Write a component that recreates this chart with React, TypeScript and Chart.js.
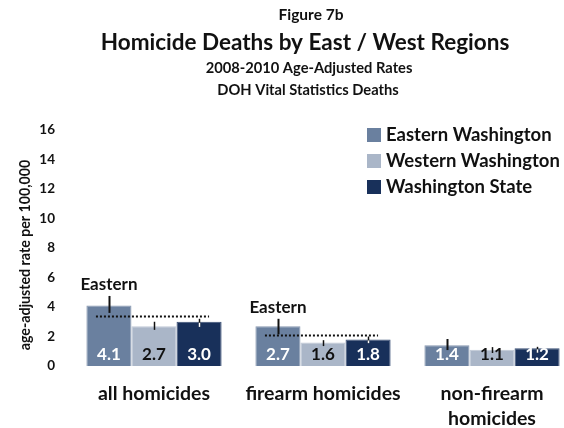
import React, { useEffect, useRef } from "react";
import { Chart, registerables } from "chart.js";

Chart.register(...registerables);

const categories: (string | string[])[] = ["all homicides", "firearm homicides", ["non-firearm", "homicides"]];
const seriesNames = ["Eastern Washington", "Western Washington", "Washington State"];
const eastern = [4.1, 2.7, 1.4];
const western = [2.7, 1.6, 1.1];
const state = [3.0, 1.8, 1.2];
const easternLow = [3.6, 2.15, 1.08];
const easternHigh = [4.75, 3.2, 1.83];
const westernLow = [2.45, 1.35, 0.88];
const westernHigh = [3.0, 1.75, 1.28];
const stateLow = [2.65, 1.55, 0.9];
const stateHigh = [3.2, 2.0, 1.3];
const referenceLine = [3.4, 2.1, null];
const annotations = ["Eastern", "Eastern", ""];
const yTicks = [0, 2, 4, 6, 8, 10, 12, 14, 16];
const titleLines = ["Figure 7b", "Homicide Deaths by East / West Regions", "2008-2010 Age-Adjusted Rates", "DOH Vital Statistics Deaths"];
const yTitle = "age-adjusted rate per 100,000";

const colors = ["#6a809f", "#aab6c8", "#18305a"];
const borderColors = ["#8797b0", "#bfc8d6", "#3a4f75"];
const labelColors = ["#ffffff", "#111111", "#ffffff"];
const FONT = "Lato, 'Open Sans', sans-serif";

const overlayPlugin = {
  id: "overlay",
  afterDatasetsDraw(chart: any) {
    const ctx = chart.ctx;
    const y = chart.scales.y;
    const lows = [easternLow, westernLow, stateLow];
    const highs = [easternHigh, westernHigh, stateHigh];
    const vals = [eastern, western, state];
    ctx.save();
    ctx.font = `bold 17px ${FONT}`;
    ctx.textAlign = "center";
    ctx.textBaseline = "middle";
    for (let d = 0; d < 3; d++) {
      const meta = chart.getDatasetMeta(d);
      meta.data.forEach((bar: any, j: number) => {
        ctx.fillStyle = labelColors[d];
        ctx.fillText(vals[d][j].toFixed(1), bar.x, y.bottom - 11);
      });
    }
    for (let d = 0; d < 3; d++) {
      const meta = chart.getDatasetMeta(d);
      meta.data.forEach((bar: any, j: number) => {
        const yl = y.getPixelForValue(lows[d][j]);
        const yh = y.getPixelForValue(highs[d][j]);
        const x = Math.round(bar.x) + 0.5;
        ctx.lineWidth = d === 0 ? 2 : 1.5;
        ctx.strokeStyle = "#111111";
        ctx.beginPath();
        ctx.moveTo(x, yh);
        ctx.lineTo(x, yl);
        ctx.stroke();
        if (d === 2) {
          const top = y.getPixelForValue(vals[d][j]);
          if (yl > top) {
            ctx.strokeStyle = "#ffffff";
            ctx.beginPath();
            ctx.moveTo(x, top + 1);
            ctx.lineTo(x, yl);
            ctx.stroke();
          }
        }
      });
    }
    const m0 = chart.getDatasetMeta(0);
    const m2 = chart.getDatasetMeta(2);
    for (let j = 0; j < categories.length; j++) {
      const v = referenceLine[j];
      if (v !== null && v !== undefined) {
        const py = Math.round(y.getPixelForValue(v)) + 0.5;
        ctx.strokeStyle = "#111111";
        ctx.lineWidth = 2;
        ctx.setLineDash([2, 2]);
        ctx.beginPath();
        ctx.moveTo(m0.data[j].x - 13, py);
        ctx.lineTo(m2.data[j].x + 10, py);
        ctx.stroke();
        ctx.setLineDash([]);
      }
      if (annotations[j]) {
        ctx.fillStyle = "#111111";
        ctx.font = `bold 17px ${FONT}`;
        ctx.textAlign = "center";
        ctx.textBaseline = "middle";
        ctx.fillText(annotations[j], m0.data[j].x, y.getPixelForValue(easternHigh[j]) - 11);
      }
    }
    ctx.textAlign = "left";
    ctx.textBaseline = "middle";
    ctx.font = `bold 18.5px ${FONT}`;
    const legendY = [135, 161, 187];
    seriesNames.forEach((n, i) => {
      ctx.fillStyle = colors[i];
      ctx.fillRect(367, legendY[i] - 7, 14, 14);
      ctx.fillStyle = "#111111";
      ctx.fillText(n, 386, legendY[i]);
    });
    ctx.textAlign = "center";
    const titleFonts = [15.5, 22.5, 14.7, 14.7];
    const titleY = [15, 43, 68, 90];
    const titleX = [311, 305, 309, 308];
    titleLines.forEach((t, i) => {
      ctx.font = `bold ${titleFonts[i]}px ${FONT}`;
      ctx.fillText(t, titleX[i], titleY[i]);
    });
    ctx.save();
    ctx.translate(25, 255);
    ctx.rotate(-Math.PI / 2);
    ctx.font = `bold 14.2px ${FONT}`;
    ctx.fillText(yTitle, 0, 0);
    ctx.restore();
    ctx.restore();
  },
};

export default function App() {
  const ref = useRef<HTMLCanvasElement | null>(null);
  useEffect(() => {
    if (!ref.current) return;
    const chart = new Chart(ref.current, {
      type: "bar",
      data: {
        labels: categories as any,
        datasets: [eastern, western, state].map((d, i) => ({
          label: seriesNames[i],
          data: d,
          backgroundColor: colors[i],
          borderColor: borderColors[i],
          borderWidth: 1,
          categoryPercentage: 0.8,
          barPercentage: 1.0,
          clip: false as any,
        })),
      },
      options: {
        animation: false,
        responsive: false,
        maintainAspectRatio: false,
        layout: { padding: { top: 130, right: 72, left: 0, bottom: 0 } },
        plugins: { legend: { display: false }, tooltip: { enabled: false }, title: { display: false } },
        scales: {
          x: {
            offset: false,
            grid: { display: false, drawTicks: false },
            border: { display: false },
            ticks: {
              padding: 15,
              color: "#111111",
              font: { family: FONT, size: 19.5, weight: "bold", lineHeight: 1.28 },
              maxRotation: 0,
              autoSkip: false,
            },
            afterFit: (s: any) => { s.height = 62; },
          },
          y: {
            min: 0,
            max: 16,
            grid: { display: false, drawTicks: false },
            border: { display: false },
            afterBuildTicks: (s: any) => { s.ticks = yTicks.map((v) => ({ value: v })); },
            ticks: {
              padding: 99,
              color: "#111111",
              font: { family: FONT, size: 13.5, weight: "bold" },
            },
            afterFit: (s: any) => { s.width = 154; s.paddingTop = 8; s.paddingBottom = 8; },
          },
        },
      },
      plugins: [overlayPlugin],
    });
    return () => chart.destroy();
  }, []);
  return (
    <div style={{ position: "fixed", left: 0, top: 0, width: 564, height: 428, background: "#fff" }}>
      <canvas ref={ref} width={564} height={428} style={{ display: "block", width: 564, height: 428 }} />
    </div>
  );
}
